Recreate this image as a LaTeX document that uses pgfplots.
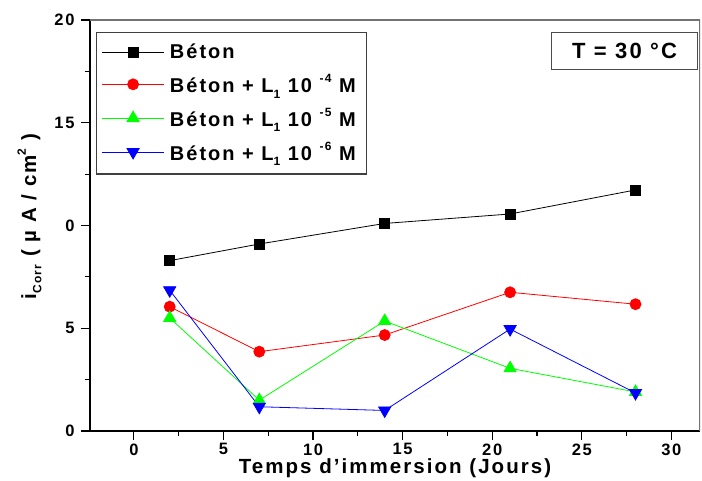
\documentclass[border=0pt]{standalone}
\usepackage{fontspec}
\setmainfont{Liberation Sans}[LetterSpace=10]
\usepackage{pgfplots}
\pgfplotsset{compat=1.18}

\definecolor{pured}{RGB}{255,0,0}
\definecolor{pugreen}{RGB}{0,255,0}
\definecolor{publue}{RGB}{0,0,255}

\newcommand{\lowidx}[1]{\raisebox{-0.5ex}{\fontsize{12}{12}\selectfont #1}}
\newcommand{\highidx}[1]{\raisebox{0.95ex}{\fontsize{12}{12}\selectfont #1}}

\begin{document}
\begin{tikzpicture}
\begin{axis}[
  at={(0pt,0pt)}, anchor=south west,
  scale only axis, width=610pt, height=411pt,
  xmin=-2.45, xmax=31.6, ymin=0, ymax=20,
  axis x line*=bottom, axis y line*=left,
  axis line style={black, line width=1.6pt},
  xtick={0,5,...,30}, minor x tick num=1,
  ytick={0,5,10,15,20}, yticklabels={0,5,0,15,20}, minor y tick num=1,
  tick align=outside, major tick length=9pt, minor tick length=5pt,
  tick style={black, line width=1.2pt},
  /pgf/number format/assume math mode=true,
  ticklabel style={font=\fontsize{16.5}{16.5}\bfseries\selectfont},
  yticklabel style={xshift=-3pt},
  xlabel={Temps d'immersion (Jours)},
  xlabel style={font=\fontsize{20.5}{20.5}\bfseries\selectfont, yshift=3pt},
  ylabel={i\lowidx{Corr} ( µ A / cm\highidx{2} )},
  ylabel style={font=\fontsize{20.5}{20.5}\bfseries\selectfont, yshift=6pt, xshift=9pt},
  legend cell align=left,
  legend style={at={(rel axis cs:0.01,0.9716)}, anchor=north west,
    draw=black!75, line width=1.2pt, inner xsep=5pt, inner ysep=10pt,
    font=\fontsize{20}{20}\bfseries\selectfont, row sep=10pt,
    nodes={inner xsep=5.5pt}},
  legend image code/.code={
    \draw[mark repeat=2, mark phase=2, #1] plot coordinates {(0pt,0pt) (31pt,0pt) (62pt,0pt)};
  },
  every axis plot/.append style={line width=0.8pt},
]
\addplot[black, mark=square*, mark size=5pt, mark options={solid}]
  coordinates {(2,8.29) (7,9.10) (14,10.1) (21,10.56) (28,11.73)};
\addlegendentry{Béton}
\addplot[pured, mark=*, mark size=5.5pt]
  coordinates {(2,6.05) (7,3.86) (14,4.67) (21,6.75) (28,6.17)};
\addlegendentry{Béton + L\lowidx{1} 10 \highidx{-4} M}
\addplot[pugreen, mark=triangle*, mark size=7pt]
  coordinates {(2,5.5) (7,1.5) (14,5.35) (21,3.05) (28,1.9)};
\addlegendentry{Béton + L\lowidx{1} 10 \highidx{-5} M}
\addplot[publue, mark=triangle*, mark size=7pt, mark options={rotate=180}]
  coordinates {(2,6.85) (7,1.18) (14,1.0) (21,4.96) (28,1.85)};
\addlegendentry{Béton + L\lowidx{1} 10 \highidx{-6} M}
% top and right frame lines in grey
\draw[black!55, line width=1.6pt] (rel axis cs:0,1) -- (rel axis cs:1,1) -- (rel axis cs:1,0);
% temperature box
\node[draw=black!70, line width=1.2pt, anchor=north east, minimum width=146pt, minimum height=37pt,
  font=\fontsize{22}{22}\bfseries\selectfont] at (rel axis cs:0.997,0.9715) {T = 30 °C};
\end{axis}
\pgfresetboundingbox
\path[use as bounding box] (-90pt,-50pt) rectangle (612pt,431pt);
\end{tikzpicture}
\end{document}
